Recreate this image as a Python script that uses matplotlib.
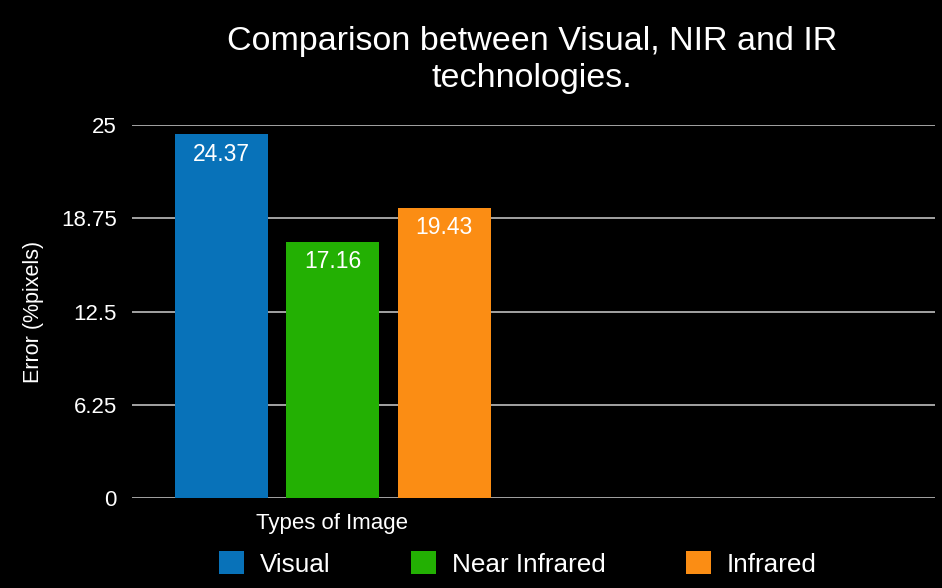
import matplotlib
matplotlib.use("Agg")
import matplotlib.pyplot as plt
from matplotlib.patches import Patch

categories = ["Visual", "Near Infrared", "Infrared"]
values = [24.37, 17.16, 19.43]
colors = ["#0872b9", "#23b003", "#fb8d14"]
yticks = [0, 6.25, 12.5, 18.75, 25]
ytick_labels = ["0", "6.25", "12.5", "18.75", "25"]

plt.rcParams['font.family'] = ['Liberation Sans', 'DejaVu Sans']

W, H = 942, 588
fig = plt.figure(figsize=(W / 100, H / 100), dpi=100, facecolor="black")
ax = fig.add_axes([132 / W, 1 - 498 / H, (935 - 132) / W, (498 - 125) / H])
ax.set_facecolor("black")

x = list(range(len(categories)))
bars = ax.bar(x, values, width=0.83, color=colors, zorder=3)
for xi, v in zip(x, values):
    ax.annotate(f"{v:.2f}", (xi, v), xytext=(0, -6), textcoords="offset points",
                ha="center", va="top", color="white", fontsize=16.5, zorder=4)

ax.set_ylim(0, 25)
ax.set_xlim(-0.80, 6.40)
ax.set_yticks(yticks)
ax.set_yticklabels(ytick_labels)
ax.set_xticks([])
ax.tick_params(axis="y", length=0, pad=11, colors="white", labelsize=16)
ax.grid(axis="y", color="#b0b0b0", linewidth=1.3, zorder=0)
for s in ax.spines.values():
    s.set_visible(False)

ax.set_ylabel("Error (%pixels)", color="white", fontsize=15.5, labelpad=12)

fig.text(532 / W, 1 - 60 / H, "Comparison between Visual, NIR and IR\ntechnologies.",
         ha="center", va="center", color="white", fontsize=24.5, linespacing=1.22)

fig.text(256 / W, 1 - 524 / H, "Types of Image", ha="left", va="center",
         color="white", fontsize=16)

handles = [Patch(facecolor=c, edgecolor="none") for c in colors]
leg = fig.legend(handles, categories, loc="center left",
                 bbox_to_anchor=(219 / W, 1 - 564 / H), ncol=3, frameon=False,
                 fontsize=18.8, handlelength=0.95, handleheight=0.95,
                 handletextpad=0.6, columnspacing=3.1, borderpad=0,
                 borderaxespad=0)
for t in leg.get_texts():
    t.set_color("white")

fig.savefig("out.png", dpi=100, facecolor="black")
